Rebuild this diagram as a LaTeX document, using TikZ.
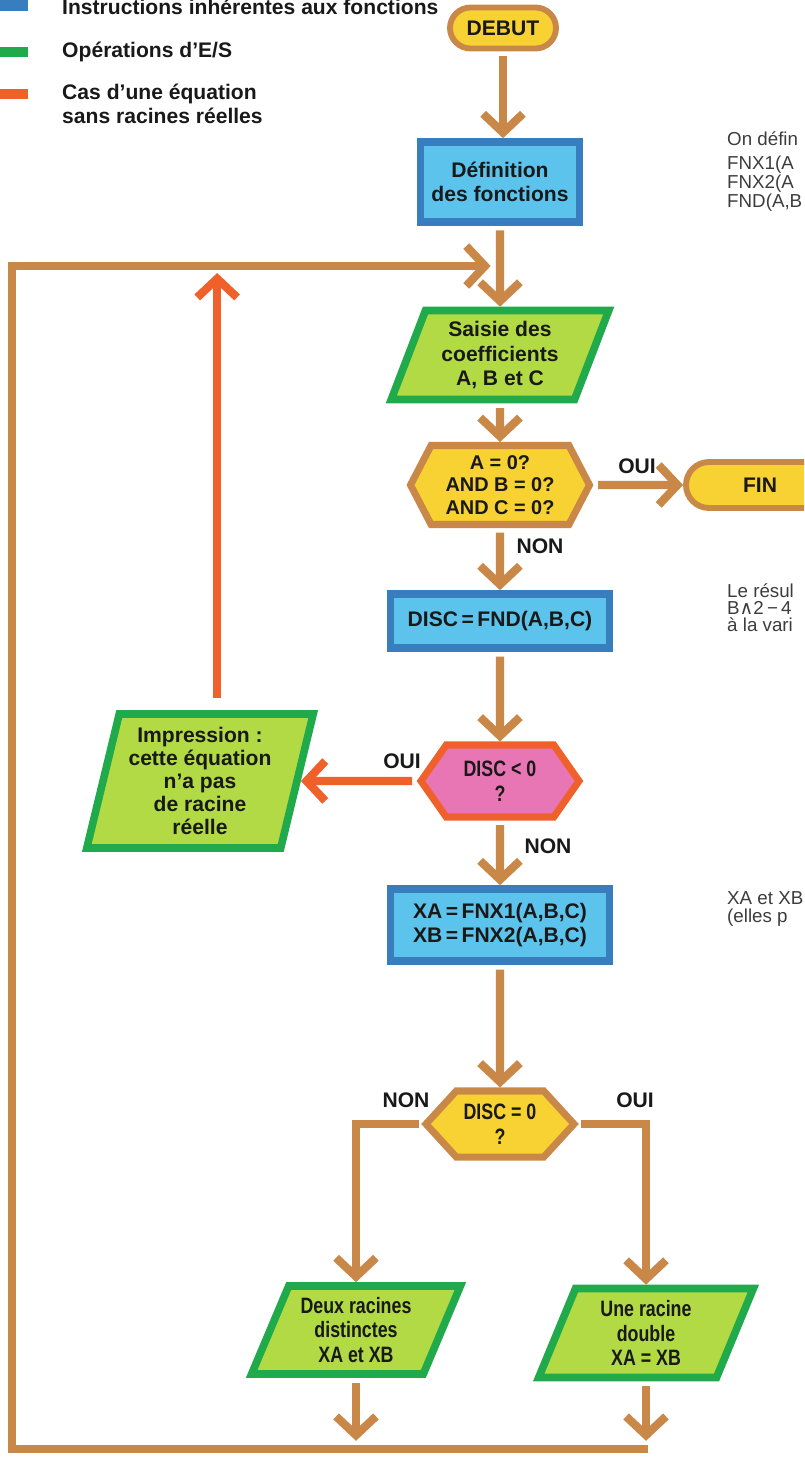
\documentclass[tikz,border=0pt]{standalone}
\usepackage{fontspec}
\setmainfont{Liberation Sans}
\newfontfamily\condfont[FakeStretch=0.8]{Liberation Sans}
\newfontfamily\symfont{DejaVu Sans}
\usetikzlibrary{arrows.meta,shapes.geometric,shapes.misc,shapes.symbols}
\definecolor{FlowBrown}{RGB}{202,136,72}
\definecolor{FlowRed}{RGB}{240,96,42}
\definecolor{FlowYellow}{RGB}{247,210,50}
\definecolor{FlowBlue}{RGB}{56,126,190}
\definecolor{FlowCyan}{RGB}{92,196,236}
\definecolor{FlowGreen}{RGB}{32,170,76}
\definecolor{FlowLime}{RGB}{178,218,68}
\definecolor{FlowPink}{RGB}{232,118,180}
\definecolor{FlowInk}{RGB}{25,25,25}
\definecolor{FlowGrey}{RGB}{60,60,60}

\begin{document}
\begin{tikzpicture}[x=0.03cm,y=-0.03cm,
    every node/.style={text=FlowInk,inner sep=0pt,align=center,
      font=\bfseries\fontsize{18}{20.5}\selectfont},
    terminal/.style={rounded rectangle,draw=FlowBrown,fill=FlowYellow,line width=5pt},
    process/.style={rectangle,draw=FlowBlue,fill=FlowCyan,line width=6.5pt},
    inout/.style={trapezium,trapezium stretches=true,
      trapezium left angle=68,trapezium right angle=112,
      draw=FlowGreen,fill=FlowLime,line width=6.5pt},
    test/.style={signal,signal to=east and west,signal pointer angle=#1,
      draw=FlowBrown,fill=FlowYellow,line width=6pt},
    test/.default=120,
    cond/.style={font=\condfont\bfseries\fontsize{19}{21}\selectfont},
    flow/.style={draw=FlowBrown,line width=7pt,shorten <=4pt,
      -{Straight Barb[length=16pt,width=34pt]}},
    flowred/.style={flow,draw=FlowRed},
    note/.style={anchor=north west,align=left,text=FlowGrey,
      font=\fontsize{16}{13}\selectfont},
    legendtext/.style={anchor=west,align=left},
  ]
  \useasboundingbox (0,0) rectangle (804,1457);
  \clip (0,0) rectangle (804,1457);

  % legende
  \fill[FlowBlue] (0,-4) rectangle (28,11);
  \fill[FlowGreen] (0,47) rectangle (28,57);
  \fill[FlowRed] (0,89) rectangle (28,99);
  \node[legendtext] (legInstr) at (62,7) {Instructions inhérentes aux fonctions};
  \node[legendtext] (legES) at (62,52) {Opérations d’E/S};
  \node[legendtext] (legRac) at (62,104) {Cas d’une équation\\sans racines réelles};

  % organigramme
  \node[terminal,minimum width=3.18cm,minimum height=1.23cm] (debut) at (503,28) {DEBUT};
  \node[process,minimum width=4.77cm,minimum height=2.40cm] (defn) at (500,182)
    {Définition\\des fonctions};
  \node[inout,minimum width=6.54cm,minimum height=2.67cm] (saisie) at (500,355)
    {Saisie des\\coefficients\\A, B et C};
  \node[test=125,minimum width=5.37cm,minimum height=2.37cm,
    font=\bfseries\fontsize{17}{19}\selectfont] (nul) at (500,485)
    {A = 0?\\AND B = 0?\\AND C = 0?};
  \node[terminal,minimum width=4.44cm,minimum height=1.38cm] (fin) at (760,485) {FIN};
  \node[process,minimum width=6.57cm,minimum height=1.62cm] (disc) at (500,621)
    {DISC\,=\,FND(A,B,C)};
  \node[test=110,cond,draw=FlowRed,fill=FlowPink,minimum width=4.74cm,
    minimum height=2.16cm] (neg) at (500,781) {DISC < 0\\?};
  \node[inout,trapezium left angle=75,trapezium right angle=105,
    minimum width=6.81cm,minimum height=4.02cm,
    font=\bfseries\fontsize{18}{19.6}\selectfont] (impr) at (200,781)
    {Impression :\\cette équation\\n’a pas\\de racine\\réelle};
  \node[process,minimum width=6.57cm,minimum height=2.16cm] (racines) at (500,925)
    {XA\,=\,FNX1(A,B,C)\\XB\,=\,FNX2(A,B,C)};
  \node[test=95,cond,minimum width=4.44cm,minimum height=1.98cm] (zero) at (500,1124)
    {DISC = 0\\?};
  \node[inout,cond,trapezium left angle=65,trapezium right angle=115,
    minimum width=6.27cm,minimum height=2.64cm] (deux) at (356,1330)
    {Deux racines\\distinctes\\XA et XB};
  \node[inout,cond,trapezium left angle=70,trapezium right angle=110,
    minimum width=6.45cm,minimum height=2.67cm] (une) at (646,1333)
    {Une racine\\double\\XA = XB};

  % boucle de retour
  \coordinate (retourBas) at (648,1449);
  \coordinate (coinBas) at (12,1449);
  \coordinate (coinHaut) at (12,266);
  \coordinate (retour) at (500,266);

  \draw[flow] (debut.south) -- (debut.south |- defn.north);
  \draw[flow] (defn) -- (saisie);
  \draw[flow,shorten <=0pt,shorten >=8pt] (retourBas) -- (coinBas) -- (coinHaut) -- (retour);
  \draw[flow] (saisie) -- (nul);
  \draw[flow] (nul) -- (fin);
  \draw[flow] (nul) -- (disc);
  \draw[flow] (disc) -- (neg);
  \draw[flowred] (neg) -- (impr);
  \draw[flowred,shorten <=10pt,shorten >=6pt] (impr.top side) -- (impr.top side |- coinHaut);
  \draw[flow] (neg) -- (racines);
  \draw[flow] (racines) -- (zero);
  \draw[flow,shorten <=2pt] (zero.west) -| (deux.north);
  \draw[flow,shorten <=2pt] (zero.east) -| (une.north);
  \draw[flow,shorten >=7pt] (deux.south) -- (deux.south |- coinBas);
  \draw[flow,shorten >=7pt] (une.south) -- (une.south |- coinBas);

  % etiquettes des tests
  \node (ouiFin) at (637,466) {OUI};
  \node (nonDisc) at (540,546) {NON};
  \node (ouiNeg) at (402,761) {OUI};
  \node (nonNeg) at (548,846) {NON};
  \node (nonZero) at (406,1100) {NON};
  \node (ouiZero) at (635,1100) {OUI};

  % commentaires
  \node[note] (noteDef) at (727,131) {On défin};
  \node[note] (noteFn) at (727,156) {FNX1(A\\FNX2(A\\FND(A,B};
  \node[note,font=\fontsize{16}{14.5}\selectfont] (noteDisc) at (727,583)
    {Le résul\\B{\symfont ∧}2\,−\,4\\à la vari};
  \node[note,font=\fontsize{16}{16}\selectfont] (noteXab) at (727,891) {XA et XB\\(elles p};
\end{tikzpicture}
\end{document}
